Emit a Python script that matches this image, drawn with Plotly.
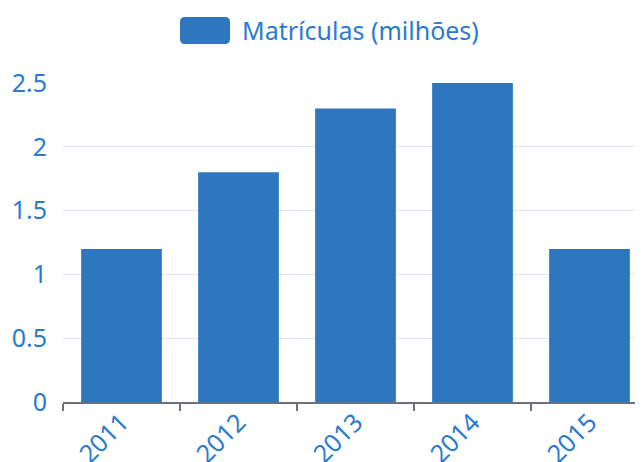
import plotly.graph_objects as go

# dados
anos = ["2011", "2012", "2013", "2014", "2015"]
matriculas = [1.2, 1.8, 2.3, 2.5, 1.2]
nome_serie = "Matrículas (milhões)"

COR_BARRA = "#2e77be"
COR_TEXTO = "#2a7bd0"
FONTE = "Noto Sans"
TAM = 25

# a pagina tem 8px de margem no body
DESLOC = 8
# area do grafico em pixels da pagina
L, T, W, H = 63, 83, 580, 319


def px_x(p):
    return (p - L) / W


def px_y(p):
    return (T + H - p) / H


def retangulo_arredondado(x0, y0, x1, y1, r):
    # caminho svg em coordenadas de papel, raio em pixels
    rx, ry = r / W, r / H
    a, b = px_x(x0), px_x(x1)
    c, d = px_y(y0), px_y(y1)  # c = topo, d = base
    return (
        f"M {a + rx},{c} L {b - rx},{c} Q {b},{c} {b},{c - ry} "
        f"L {b},{d + ry} Q {b},{d} {b - rx},{d} "
        f"L {a + rx},{d} Q {a},{d} {a},{d + ry} "
        f"L {a},{c - ry} Q {a},{c} {a + rx},{c} Z"
    )


fig = go.Figure(
    go.Bar(
        x=anos,
        y=matriculas,
        name=nome_serie,
        marker_color=COR_BARRA,
        marker_line_width=0,
        showlegend=False,
    )
)

fig.update_layout(
    width=643 - DESLOC,
    height=462 - DESLOC,
    margin=dict(l=L - DESLOC, r=0, t=T - DESLOC, b=462 - T - H, autoexpand=False),
    paper_bgcolor="white",
    plot_bgcolor="white",
    bargap=0.31,
    font=dict(family=FONTE, size=TAM, color=COR_TEXTO),
    shapes=[
        dict(
            type="path",
            xref="paper",
            yref="paper",
            path=retangulo_arredondado(180, 17, 230, 44, 5),
            fillcolor=COR_BARRA,
            line_width=0,
        )
    ],
    annotations=[
        dict(
            text=nome_serie,
            xref="paper",
            yref="paper",
            x=px_x(240),
            y=px_y(30),
            xanchor="left",
            yanchor="middle",
            showarrow=False,
            font=dict(family=FONTE, size=TAM, color=COR_TEXTO),
        )
    ],
)

fig.update_xaxes(
    range=[-0.5, -0.5 + W / 117],
    showline=True,
    linecolor="#6e7079",
    linewidth=1.5,
    ticks="outside",
    tickson="boundaries",
    ticklen=7,
    tickwidth=1.5,
    tickcolor="#6e7079",
    tickangle=-45,
    ticklabelstandoff=-6,
    showgrid=False,
    automargin=False,
    tickfont=dict(size=TAM, color=COR_TEXTO),
)

fig.update_yaxes(
    range=[0, 2.5],
    dtick=0.5,
    tickformat="~g",
    showgrid=True,
    gridcolor="#e0e6f1",
    gridwidth=1,
    zeroline=False,
    showline=False,
    ticks="",
    ticklabelstandoff=15,
    automargin=False,
    tickfont=dict(size=TAM, color=COR_TEXTO),
)

fig.write_html("out.html")
